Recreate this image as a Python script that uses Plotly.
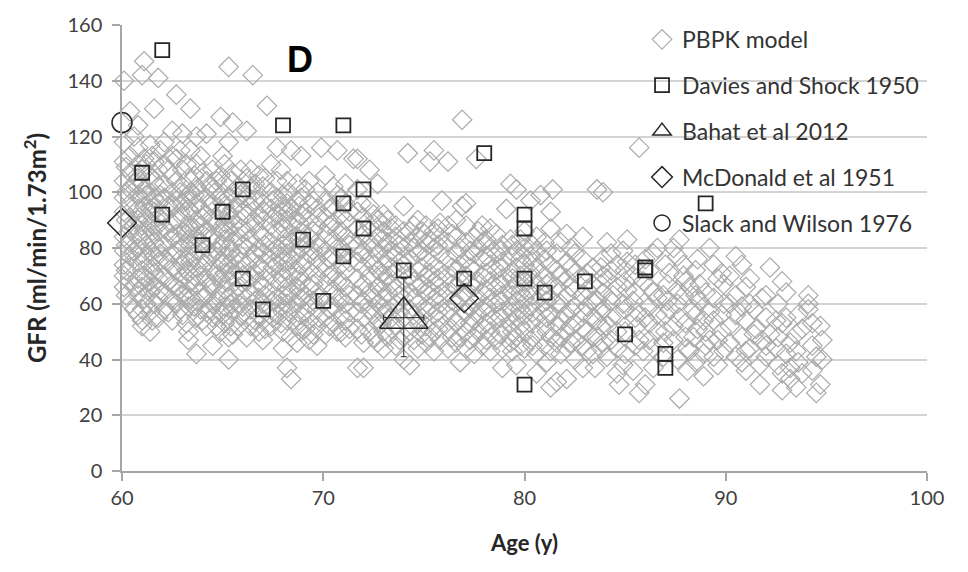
import plotly.graph_objects as go

# PBPK virtual population: (age, [GFR values observed at that age])
pbpk_60s = [
    (60.1, [66, 70, 74, 79, 84, 93, 98, 104, 111, 118, 140]),
    (60.2, [63, 72, 81, 90, 100, 109]),
    (60.4, [60, 68, 73, 77, 82, 87, 91, 96, 101, 107, 113, 129]),
    (60.6, [58, 66, 79, 88, 103, 120]),
    (60.8, [56, 63, 69, 75, 80, 85, 90, 94, 99, 105, 110, 116, 124]),
    (61.0, [52, 54, 58, 66, 72, 78, 83, 88, 92, 97, 103, 108, 142]),
    (61.1, [62, 70, 76, 86, 95, 101, 112, 147]),
    (61.2, [60, 69, 81, 91, 99, 110]),
    (61.4, [50, 57, 64, 68, 74, 79, 84, 89, 94, 100, 106, 117]),
    (61.5, [54, 72, 86, 96, 113]),
    (61.6, [60, 66, 71, 77, 82, 88, 93, 98, 104, 111, 130]),
    (61.8, [55, 62, 69, 75, 80, 86, 91, 96, 102, 108, 141]),
    (61.9, [65, 78, 89, 99, 115]),
    (62.1, [58, 64, 70, 76, 81, 87, 92, 98, 103, 110, 118]),
    (62.3, [57, 68, 75, 86, 95, 108]),
    (62.5, [54, 61, 67, 73, 78, 84, 89, 95, 100, 106, 113, 122]),
    (62.7, [60, 66, 72, 79, 85, 90, 97, 104, 112, 135]),
    (62.9, [58, 65, 76, 82, 93, 100, 115]),
    (63.0, [56, 63, 69, 74, 80, 86, 91, 96, 102, 108, 121]),
    (63.2, [53, 62, 72, 85, 97, 110]),
    (63.3, [47, 50, 59, 65, 71, 77, 83, 88, 94, 99, 105]),
    (63.4, [62, 68, 75, 81, 87, 93, 100, 115, 130]),
    (63.6, [59, 70, 77, 87, 99, 106]),
    (63.7, [42, 55, 61, 67, 73, 79, 84, 90, 96, 102, 110, 120]),
    (63.9, [58, 64, 70, 76, 82, 88, 94, 100, 113]),
    (64.0, [54, 62, 73, 85, 91, 107]),
    (64.2, [52, 57, 63, 69, 75, 80, 86, 92, 98, 104, 121]),
    (64.4, [58, 67, 77, 83, 95, 102]),
    (64.5, [45, 55, 60, 66, 72, 78, 84, 90, 96, 101, 108]),
    (64.7, [52, 61, 70, 79, 90, 104]),
    (64.9, [50, 57, 63, 69, 75, 81, 87, 93, 99, 106, 127]),
    (65.0, [56, 67, 74, 86, 96, 113]),
    (65.1, [53, 59, 65, 71, 77, 83, 89, 95, 103, 110]),
    (65.3, [40, 48, 56, 62, 68, 74, 80, 86, 92, 98, 118, 145]),
    (65.4, [52, 60, 72, 79, 90, 104]),
    (65.5, [49, 58, 64, 70, 76, 82, 88, 94, 100, 107, 125]),
    (65.8, [52, 60, 66, 72, 78, 84, 90, 96, 102]),
    (65.9, [56, 63, 75, 87, 99, 108]),
    (66.0, [59, 70, 81, 93, 100]),
    (66.2, [48, 55, 62, 68, 74, 80, 86, 92, 98, 105, 122]),
    (66.4, [52, 58, 64, 70, 76, 83, 89, 95, 101, 108]),
    (66.5, [142]),
    (66.6, [54, 61, 71, 78, 89, 97, 103]),
    (66.8, [50, 56, 62, 68, 74, 80, 86, 92, 99, 106]),
    (67.0, [47, 54, 60, 66, 72, 78, 84, 90, 96, 102]),
    (67.1, [51, 63, 69, 81, 93, 105]),
    (67.2, [131]),
    (67.4, [52, 58, 64, 70, 76, 82, 88, 94, 100, 110]),
    (67.5, [55, 61, 73, 79, 91, 97]),
    (67.7, [56, 62, 68, 74, 80, 86, 92, 98, 104, 116]),
    (67.9, [53, 59, 71, 77, 89, 95, 108]),
    (68.0, [44, 50, 57, 63, 69, 75, 81, 87, 93, 99]),
    (68.2, [37, 54, 60, 66, 72, 78, 84, 90, 96, 104]),
    (68.3, [57, 63, 75, 81, 93, 100]),
    (68.4, [33, 48, 58, 64, 70, 76, 82, 88, 94, 115]),
    (68.7, [46, 52, 60, 66, 72, 78, 84, 90, 97, 103]),
    (68.8, [54, 65, 70, 83, 89, 95]),
    (68.9, [50, 56, 62, 68, 74, 80, 86, 92, 98, 113]),
    (69.1, [51, 57, 63, 75, 81, 93, 101]),
    (69.3, [47, 54, 60, 66, 72, 78, 84, 90, 96, 104]),
    (69.5, [49, 61, 67, 79, 86, 97]),
    (69.7, [45, 52, 58, 64, 70, 76, 82, 88, 94, 100]),
    (69.8, [55, 62, 73, 80, 91]),
    (69.9, [116]),
]
pbpk_70s = [
    (70.1, [49, 55, 61, 67, 73, 79, 85, 91, 97, 106]),
    (70.3, [52, 58, 70, 76, 88, 94]),
    (70.5, [53, 59, 65, 71, 77, 83, 89, 95, 102]),
    (70.7, [50, 62, 68, 80, 86, 99, 115]),
    (70.9, [50, 56, 62, 68, 74, 80, 86, 92, 98]),
    (71.1, [48, 54, 60, 66, 72, 78, 84, 90, 96, 103]),
    (71.3, [51, 57, 63, 75, 81, 93]),
    (71.5, [112]),
    (71.7, [37, 51, 57, 63, 69, 75, 81, 87, 93, 101, 112]),
    (71.9, [49, 60, 66, 78, 84, 96]),
    (72.0, [37, 46, 55, 61, 67, 73, 79, 85, 91]),
    (72.3, [50, 58, 64, 70, 76, 82, 88, 95, 108]),
    (72.5, [48, 56, 62, 74, 80, 92]),
    (72.7, [46, 53, 60, 66, 72, 78, 84, 90, 103]),
    (72.9, [53, 59, 65, 71, 83, 89]),
    (73.0, [44, 50, 56, 62, 68, 74, 80, 86, 92]),
    (73.2, [48, 58, 64, 70, 76, 82, 90]),
    (73.4, [51, 55, 67, 73, 79, 87]),
    (73.6, [45, 52, 60, 66, 72, 78, 84, 88]),
    (73.8, [47, 57, 63, 75, 81]),
    (74.0, [40, 48, 55, 62, 68, 74, 80, 86, 95]),
    (74.2, [114]),
    (74.3, [38, 50, 58, 64, 70, 76, 82, 86]),
    (74.5, [47, 56, 62, 68, 80, 88]),
    (74.7, [44, 53, 60, 66, 72, 78, 84, 90]),
    (74.9, [49, 55, 67, 73, 79, 86]),
    (75.1, [46, 52, 58, 64, 70, 76, 82, 88]),
    (75.3, [48, 59, 65, 71, 83, 111]),
    (75.5, [43, 50, 56, 62, 68, 74, 80, 86, 115]),
    (75.7, [51, 57, 63, 69, 81, 87]),
    (75.8, [47, 54, 60, 66, 72, 78, 84, 89]),
    (75.9, [97]),
    (76.2, [44, 51, 58, 64, 70, 76, 82, 88, 111]),
    (76.4, [48, 55, 61, 67, 73, 85]),
    (76.6, [46, 53, 60, 66, 72, 78, 84, 90]),
    (76.8, [39, 48, 55, 62, 68, 74, 80]),
    (76.9, [95, 126]),
    (77.1, [44, 50, 57, 64, 70, 76, 82, 88, 96]),
    (77.3, [47, 53, 59, 67, 73, 79]),
    (77.5, [42, 48, 54, 60, 66, 72, 78, 84]),
    (77.6, [112]),
    (77.7, [50, 56, 62, 68, 80, 86]),
    (77.9, [45, 52, 58, 64, 70, 76, 82, 88]),
    (78.1, [47, 53, 59, 65, 71, 77, 83]),
    (78.3, [43, 50, 56, 62, 68, 74, 80, 87]),
    (78.6, [47, 54, 60, 66, 72, 78, 85]),
    (78.8, [49, 55, 61, 67, 73, 79]),
    (78.9, [37, 44, 51, 57, 63, 69, 75, 81]),
    (79.1, [94]),
    (79.3, [46, 53, 59, 65, 71, 77, 83, 103]),
    (79.4, [43, 50, 57, 63, 69, 81]),
    (79.6, [38, 48, 55, 61, 67, 73, 79, 101]),
    (79.8, [45, 52, 58, 64, 70, 76, 83]),
]
pbpk_80s = [
    (80.0, [44, 50, 56, 62, 68, 74, 80, 86]),
    (80.3, [47, 53, 59, 65, 71, 77, 97]),
    (80.4, [45, 57, 63, 69, 75, 81]),
    (80.6, [35, 42, 49, 55, 61, 67, 73, 79, 84]),
    (80.8, [99]),
    (81.0, [45, 52, 58, 64, 70, 76, 82]),
    (81.1, [39, 50, 55, 61, 67, 79]),
    (81.3, [30, 43, 48, 56, 62, 68, 74, 87, 93]),
    (81.4, [101]),
    (81.6, [32, 46, 52, 60, 66, 72, 78]),
    (81.8, [42, 48, 54, 60, 70, 82]),
    (82.1, [33, 44, 50, 56, 63, 69, 75, 85]),
    (82.3, [46, 52, 58, 66, 73, 80]),
    (82.5, [40, 47, 53, 59, 65, 71, 78]),
    (82.9, [37, 45, 51, 57, 63, 69, 76, 84]),
    (83.1, [43, 50, 59, 65, 71]),
    (83.4, [42, 48, 55, 61, 67, 73]),
    (83.5, [37]),
    (83.6, [48, 54, 61, 101]),
    (83.8, [44, 52, 57, 67, 73]),
    (83.9, [46, 58, 64, 70, 76, 100]),
    (84.1, [41, 52, 69, 82]),
    (84.3, [47, 55, 61, 72, 78]),
    (84.4, [63]),
    (84.6, [35, 44, 50, 56, 66, 74]),
    (84.7, [31]),
    (84.9, [38, 60, 79]),
    (85.0, [42, 50, 58, 68, 72]),
    (85.1, [65, 75, 83]),
    (85.4, [36, 61, 70]),
    (85.5, [45, 55, 64, 74]),
    (85.6, [52, 57]),
    (85.7, [28, 47, 116]),
    (85.9, [43, 68]),
    (86.0, [31, 55, 76]),
    (86.2, [47, 53, 59, 66, 72]),
    (86.4, [37, 44, 64, 78]),
    (86.6, [50, 56, 62, 80]),
    (86.9, [41, 46, 63]),
    (87.0, [50, 56, 74]),
    (87.1, [61, 67]),
    (87.2, [58, 71]),
    (87.4, [47, 52, 80]),
    (87.6, [40, 60, 65, 77]),
    (87.7, [26, 55, 83]),
    (87.9, [63, 70, 74]),
    (88.0, [48, 53, 68]),
    (88.1, [36, 44]),
    (88.2, [43, 66]),
    (88.4, [48, 58]),
    (88.5, [39, 56, 63, 72]),
    (88.6, [51, 76]),
    (88.7, [61, 67]),
    (88.9, [34, 42, 54]),
    (89.0, [45, 50, 64]),
    (89.2, [47, 57, 80]),
    (89.4, [41, 54, 62, 74]),
    (89.6, [38, 47, 69]),
    (89.8, [50, 56, 71]),
    (89.9, [43, 60, 67]),
]
pbpk_90s = [
    (90.2, [46, 52, 60, 70]),
    (90.5, [41, 56, 63, 77]),
    (90.8, [39, 48, 59, 74]),
    (91.0, [36, 43, 54, 66]),
    (91.2, [44, 60, 69]),
    (91.4, [49, 58]),
    (91.5, [51]),
    (91.7, [31, 38]),
    (91.8, [47, 62]),
    (92.0, [41, 45, 55, 63]),
    (92.2, [49, 73]),
    (92.5, [44, 54]),
    (92.6, [38, 48, 60]),
    (92.8, [29, 35, 53, 68]),
    (93.0, [42, 55, 64]),
    (93.2, [33, 37, 46]),
    (93.5, [30, 43, 49]),
    (93.6, [39, 56]),
    (93.8, [35, 51]),
    (94.1, [58, 60, 63]),
    (94.3, [36, 45, 53]),
    (94.5, [28, 41]),
    (94.7, [31, 52]),
    (94.8, [40, 47]),
]

davies_age = [62, 61, 62, 64, 65, 66, 66, 67, 68, 69, 70, 71, 71, 71, 72, 72,
              74, 77, 78, 80, 80, 80, 80, 81, 83, 85, 86, 86, 87, 87, 89]
davies_gfr = [151, 107, 92, 81, 93, 101, 69, 58, 124, 83, 61, 124, 96, 77, 101, 87,
              72, 69, 114, 92, 87, 69, 31, 64, 68, 49, 73, 72, 42, 37, 96]

bahat_age = [74]
bahat_gfr = [55]
bahat_age_err = [1]
bahat_gfr_err = [14]

mcdonald_age = [60, 77]
mcdonald_gfr = [89, 62]

slack_age = [60]
slack_gfr = [125]

x_ticks = [60, 70, 80, 90, 100]
y_ticks = [0, 20, 40, 60, 80, 100, 120, 140, 160]

pbpk_age, pbpk_gfr = [], []
for rows in (pbpk_60s, pbpk_70s, pbpk_80s, pbpk_90s):
    for age, values in rows:
        for v in values:
            pbpk_age.append(age)
            pbpk_gfr.append(v)

FONT = "Lato"
DARK = "#262626"

fig = go.Figure()

fig.add_trace(go.Scatter(
    x=pbpk_age, y=pbpk_gfr, mode="markers", name="PBPK model",
    legendgroup="a", cliponaxis=False,
    marker=dict(symbol="diamond-open", size=15, color="#ababab",
                line=dict(width=1.2, color="#ababab")),
))
fig.add_trace(go.Scatter(
    x=davies_age, y=davies_gfr, mode="markers", name="Davies and Shock 1950",
    legendgroup="b", cliponaxis=False,
    marker=dict(symbol="square-open", size=14, color=DARK,
                line=dict(width=1.8, color=DARK)),
))
fig.add_trace(go.Scatter(
    x=bahat_age, y=bahat_gfr, mode="markers", name="Bahat et al 2012",
    legendgroup="c", cliponaxis=False,
    marker=dict(symbol="triangle-up-open", size=42, color=DARK,
                line=dict(width=1.5, color=DARK)),
    error_y=dict(type="data", array=bahat_gfr_err, color=DARK, thickness=1, width=3),
    error_x=dict(type="data", array=bahat_age_err, color=DARK, thickness=1, width=3),
))
fig.add_trace(go.Scatter(
    x=mcdonald_age, y=mcdonald_gfr, mode="markers", name="McDonald et al 1951",
    legendgroup="d", cliponaxis=False,
    marker=dict(symbol="diamond-open", size=22, color=DARK,
                line=dict(width=1.5, color=DARK)),
))
fig.add_trace(go.Scatter(
    x=slack_age, y=slack_gfr, mode="markers", name="Slack and Wilson 1976",
    legendgroup="e", cliponaxis=False,
    marker=dict(symbol="circle-open", size=20, color=DARK,
                line=dict(width=1.5, color=DARK)),
))

fig.add_annotation(
    x=68.85, y=147.5, xref="x", yref="y", text="<b>D</b>", showarrow=False,
    font=dict(family="Liberation Sans", size=36, color="#000000"),
)

fig.update_layout(
    width=968, height=572,
    margin=dict(l=122, r=41, t=21, b=101),
    paper_bgcolor="white", plot_bgcolor="white",
    font=dict(family=FONT, color="#404040"),
    showlegend=True,
    legend=dict(
        x=0.646, y=1.016, xanchor="left", yanchor="top",
        bgcolor="rgba(0,0,0,0)", borderwidth=0,
        font=dict(family=FONT, size=23, color="#333333"),
        traceorder="grouped", tracegroupgap=13,
    ),
    xaxis=dict(
        range=[60, 100], tickvals=x_ticks, showgrid=False, zeroline=False,
        showline=True, linecolor="#a6a6a6", linewidth=1.5,
        ticks="outside", ticklen=8, tickcolor="#a6a6a6", tickwidth=1.5,
        tickfont=dict(family=FONT, size=20, color="#404040"),
        title=dict(text="<b>Age (y)</b>", font=dict(family=FONT, size=22, color="#262626"),
                   standoff=28),
    ),
    yaxis=dict(
        range=[0, 160], tickvals=y_ticks, showgrid=True, gridcolor="#d4d4d4", gridwidth=1.5,
        zeroline=False, showline=True, linecolor="#a6a6a6", linewidth=1.5,
        ticks="outside", ticklen=8, tickcolor="#a6a6a6", tickwidth=1.5,
        tickfont=dict(family=FONT, size=20, color="#404040"),
        ticklabelstandoff=6,
        title=dict(text="<b>GFR (ml/min/1.73m<sup>2</sup>)</b>",
                   font=dict(family=FONT, size=24, color="#262626"), standoff=14),
    ),
)

fig.write_html("out.html")
